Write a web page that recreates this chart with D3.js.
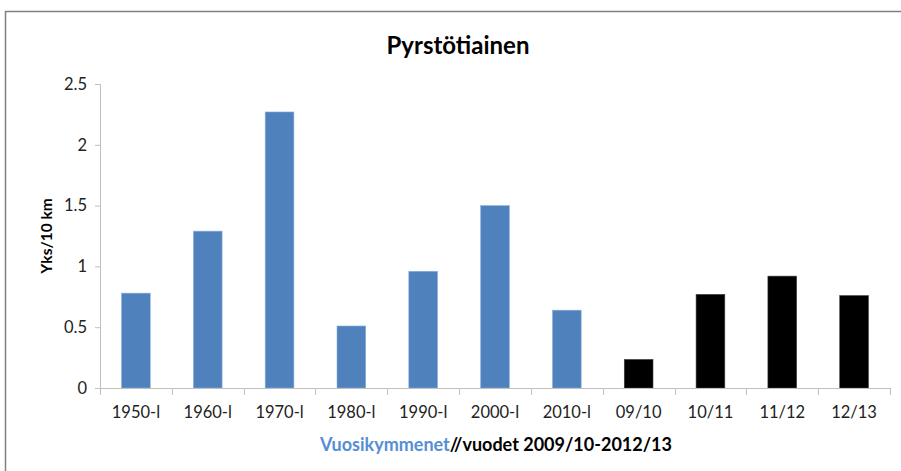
<!DOCTYPE html>
<html>
<head>
<meta charset="utf-8">
<script src="https://cdn.jsdelivr.net/npm/d3@7"></script>
<style>
  body { margin: 0; background: #fff; }
  svg text { font-family: Lato, "Open Sans", sans-serif; }
</style>
</head>
<body>
<div id="chart"></div>
<script>
'use strict';

// data
var categories = ["1950-l", "1960-l", "1970-l", "1980-l", "1990-l", "2000-l", "2010-l", "09/10", "10/11", "11/12", "12/13"];
var values = [0.78, 1.29, 2.27, 0.51, 0.96, 1.50, 0.64, 0.235, 0.77, 0.92, 0.76];
var yearly = ["09/10", "10/11", "11/12", "12/13"];
var yTicks = [0, 0.5, 1, 1.5, 2, 2.5];

var width = 901, height = 471;
var margin = {top: 84, right: 11, bottom: 83, left: 100};

var svg = d3.select("#chart").append("svg")
  .attr("width", width)
  .attr("height", height);

// outer frame, clipped at right and bottom like the screenshot
svg.append("rect")
  .attr("x", 5.5).attr("y", 11.5)
  .attr("width", 920).attr("height", 480)
  .attr("fill", "none")
  .attr("stroke", "#7f7f7f")
  .attr("stroke-width", 1.5);

var x = d3.scaleBand()
  .domain(categories)
  .range([margin.left, width - margin.right])
  .paddingInner(0.6)
  .paddingOuter(0.3);

var y = d3.scaleLinear()
  .domain([0, 2.5])
  .range([height - margin.bottom, margin.top]);

// bars
svg.append("g").selectAll("rect")
  .data(categories)
  .join("rect")
  .attr("x", function(d) { return x(d); })
  .attr("y", function(d, i) { return y(values[i]); })
  .attr("width", x.bandwidth())
  .attr("height", function(d, i) { return y(0) - y(values[i]); })
  .attr("fill", function(d) { return yearly.includes(d) ? "#000" : "#4f81bd"; })
  .attr("stroke", function(d) { return yearly.includes(d) ? "#404040" : "#8eb0dc"; })
  .attr("stroke-width", 0.6);

// y axis
var yAxis = svg.append("g")
  .attr("transform", `translate(${margin.left},0)`)
  .call(d3.axisLeft(y).tickValues(yTicks).tickSize(5).tickPadding(8).tickFormat(d3.format("")));
yAxis.select(".domain").attr("stroke", "#bfbfbf").attr("d", `M-5,${y(2.5) + 0.5}H0.5V${y(0)}`);
yAxis.selectAll(".tick line").attr("stroke", "#bfbfbf");
yAxis.selectAll(".tick text").attr("font-size", 16.5).attr("fill", "#222");

// x axis, ticks sit on the band boundaries
var bounds = d3.range(categories.length + 1).map(function(i) { return margin.left + i * (width - margin.right - margin.left) / categories.length; });
var xg = svg.append("g");
xg.append("line")
  .attr("x1", margin.left).attr("x2", width - margin.right)
  .attr("y1", y(0) + 0.5).attr("y2", y(0) + 0.5)
  .attr("stroke", "#bfbfbf");
xg.selectAll("line.tick")
  .data(bounds)
  .join("line")
  .attr("class", "tick")
  .attr("x1", function(d) { return Math.round(d) + 0.5; })
  .attr("x2", function(d) { return Math.round(d) + 0.5; })
  .attr("y1", y(0)).attr("y2", y(0) + 7)
  .attr("stroke", "#bfbfbf");
xg.selectAll("text")
  .data(categories)
  .join("text")
  .attr("x", function(d) { return x(d) + x.bandwidth() / 2; })
  .attr("y", y(0) + 30)
  .attr("text-anchor", "middle")
  .attr("font-size", 16.5)
  .attr("fill", "#222")
  .text(function(d) { return d; });

// title
svg.append("text")
  .attr("x", 458).attr("y", 54)
  .attr("text-anchor", "middle")
  .attr("font-size", 24)
  .attr("font-weight", "bold")
  .text("Pyrstötiainen");

// y axis title
svg.append("text")
  .attr("transform", "translate(52,236) rotate(-90)")
  .attr("text-anchor", "middle")
  .attr("font-size", 15.5)
  .attr("font-weight", "bold")
  .text("Yks/10 km");

// x axis title
var xt = svg.append("text")
  .attr("x", 496).attr("y", 451)
  .attr("text-anchor", "middle")
  .attr("font-size", 18)
  .attr("font-weight", "bold");
xt.append("tspan").attr("fill", "#558ed5").text("Vuosikymmenet");
xt.append("tspan").attr("fill", "#000").text("//vuodet 2009/10-2012/13");
</script>
</body>
</html>
